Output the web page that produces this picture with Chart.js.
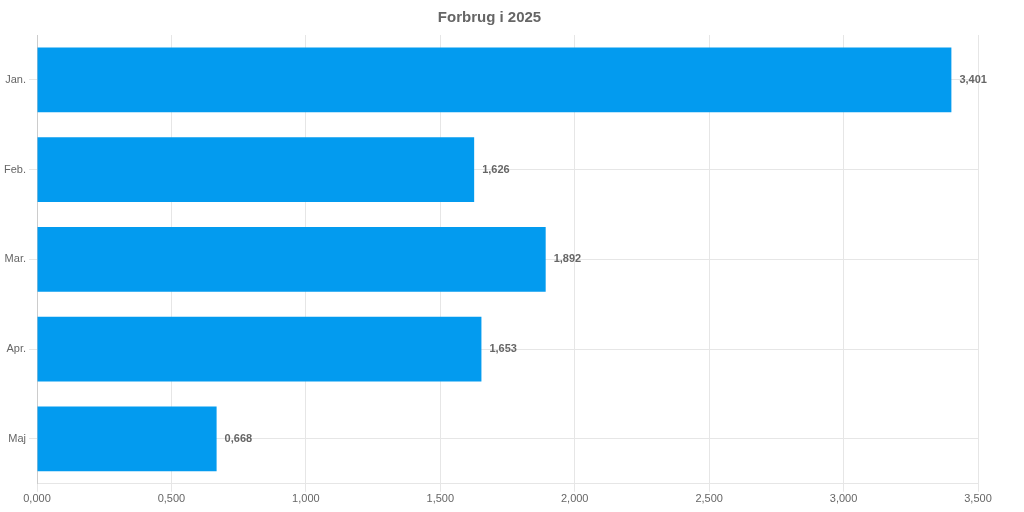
<!DOCTYPE html>
<html>
<head>
<meta charset="utf-8">
<script src="https://cdn.jsdelivr.net/npm/chart.js@4"></script>
<style>
html,body{margin:0;padding:0;background:#fff;}
#wrap{width:1024px;height:512px;}
</style>
</head>
<body>
<div id="wrap"><canvas id="c" width="1024" height="512"></canvas></div>
<script>
const categories = ["Jan.", "Feb.", "Mar.", "Apr.", "Maj"];
const values = [3.401, 1.626, 1.892, 1.653, 0.668];
const xTicks = [0, 0.5, 1, 1.5, 2, 2.5, 3, 3.5];
const titleText = "Forbrug i 2025";

const fmt = v => Number(v).toFixed(3).replace('.', ',');

const valueLabels = {
  id: 'valueLabels',
  afterDatasetsDraw(chart) {
    const ctx = chart.ctx;
    const meta = chart.getDatasetMeta(0);
    ctx.save();
    ctx.font = 'bold 11px "Liberation Sans", Arial, sans-serif';
    ctx.fillStyle = '#666';
    ctx.textAlign = 'left';
    ctx.textBaseline = 'middle';
    meta.data.forEach((bar, i) => {
      ctx.fillText(fmt(chart.data.datasets[0].data[i]), bar.x + 8, bar.y);
    });
    ctx.restore();
  }
};

Chart.defaults.font.family = '"Liberation Sans", Arial, sans-serif';
Chart.defaults.color = '#666';

new Chart(document.getElementById('c'), {
  type: 'bar',
  data: {
    labels: categories,
    datasets: [{
      data: values,
      backgroundColor: '#039BEF',
      borderWidth: 0
    }]
  },
  options: {
    indexAxis: 'y',
    responsive: false,
    animation: false,
    layout: { padding: { left: 1, right: 46, top: 0, bottom: 5 } },
    plugins: {
      legend: { display: false },
      tooltip: { enabled: false },
      title: {
        display: true,
        text: titleText,
        color: '#666',
        font: { size: 15, weight: 'bold' },
        padding: { top: 9, bottom: 8 }
      }
    },
    scales: {
      x: {
        min: 0,
        max: 3.5,
        afterBuildTicks: axis => { axis.ticks = xTicks.map(v => ({ value: v })); },
        ticks: { callback: v => fmt(v), font: { size: 11 }, color: '#666', padding: 1 },
        grid: { color: '#e6e6e6', drawTicks: true, tickLength: 8 },
        border: { color: '#e6e6e6' }
      },
      y: {
        ticks: { font: { size: 11 }, color: '#666' },
        grid: { offset: false, color: '#e6e6e6', tickLength: 8 },
        border: { color: '#cccccc' }
      }
    }
  },
  plugins: [valueLabels]
});
</script>
</body>
</html>
